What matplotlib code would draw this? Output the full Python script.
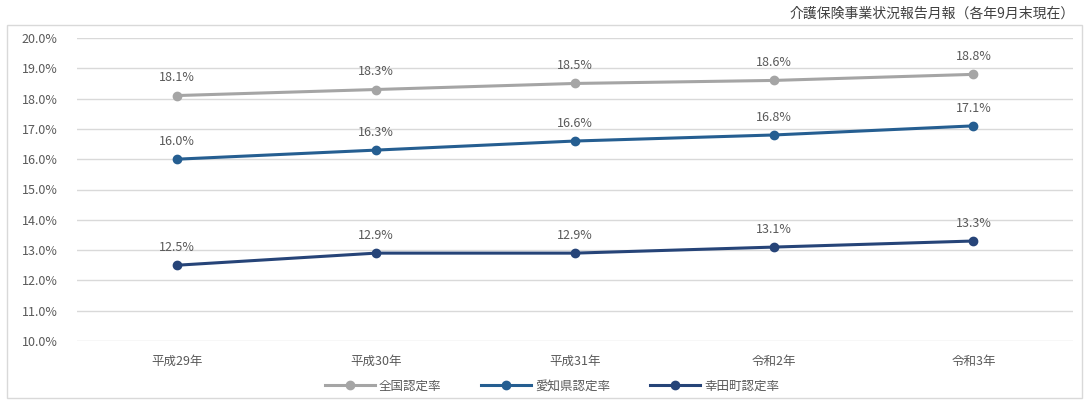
import matplotlib.pyplot as plt
from matplotlib.patches import Rectangle

plt.rcParams['font.family'] = ['Noto Sans CJK JP', 'DejaVu Sans']

years = ["平成29年", "平成30年", "平成31年", "令和2年", "令和3年"]
national = [18.1, 18.3, 18.5, 18.6, 18.8]
aichi = [16.0, 16.3, 16.6, 16.8, 17.1]
kota = [12.5, 12.9, 12.9, 13.1, 13.3]

series = [
  ("全国認定率", national, "#A5A5A5"),
  ("愛知県認定率", aichi, "#255E91"),
  ("幸田町認定率", kota, "#264478"),
]

text_color = "#595959"

fig = plt.figure(figsize=(10.88, 4), dpi=100)
fig.patches.append(Rectangle((7 / 1088, 2 / 400), 1075 / 1088, 373 / 400,
                             transform=fig.transFigure, fill=False,
                             edgecolor="#D9D9D9", linewidth=1))
ax = fig.add_axes([77 / 1088, 1 - 341 / 400, 996 / 1088, 303 / 400])

x = list(range(len(years)))
for name, vals, color in series:
  ax.plot(x, vals, color=color, linewidth=2.2, marker="o", markersize=6, label=name)
  for xi, v in zip(x, vals):
    ax.annotate(f"{v:.1f}%", (xi, v), xytext=(0, 8), textcoords="offset points",
                ha="center", va="bottom", fontsize=9, color=text_color)

ax.set_xlim(-0.5, len(years) - 0.5)
ax.set_ylim(10, 20)
ax.set_yticks([10 + i for i in range(11)])
ax.set_yticklabels([f"{10 + i:.1f}%" for i in range(11)])
ax.set_xticks(x)
ax.set_xticklabels(years)
ax.grid(axis="y", color="#D9D9D9", linewidth=1)
ax.set_axisbelow(True)
for s in ax.spines.values():
  s.set_visible(False)
ax.tick_params(axis="both", length=0, colors=text_color, labelsize=9)
ax.tick_params(axis="x", pad=10)
ax.tick_params(axis="y", pad=14)

ax.legend(loc="upper center", bbox_to_anchor=(0.477, -0.09), ncol=3, frameon=False,
          fontsize=9, labelcolor=text_color, handlelength=4, handletextpad=0.3,
          columnspacing=3.2)

fig.text(1075 / 1088, 1 - 14 / 400, "介護保険事業状況報告月報（各年9月末現在）",
         ha="right", va="center", fontsize=10, color="#404040")

fig.savefig("out.png", dpi=100)
